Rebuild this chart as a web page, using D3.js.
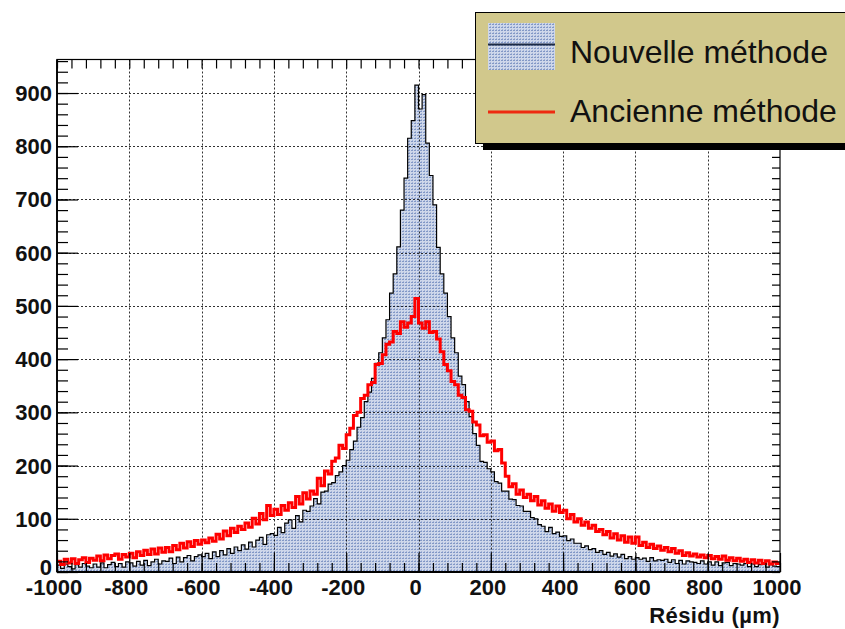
<!DOCTYPE html>
<html>
<head>
<meta charset="utf-8">
<script src="https://cdn.jsdelivr.net/npm/d3@7"></script>
<style>
html,body{margin:0;padding:0;background:#fff;}
svg{display:block;}
</style>
</head>
<body>
<svg id="chart" width="845" height="629"></svg>
<script>
// ---- DATA ----
const binStart = -1000;
const binWidth = 10;
// "Nouvelle méthode" (filled histogram), counts per 10 µm bin from -1000 to 1000
const nouvelle = [
  13, 7, 15, 10, 6, 14, 9, 16, 11, 8,
  15, 9, 17, 8, 14, 18, 10, 16, 9, 19,
  17, 11, 20, 13, 22, 12, 19, 24, 15, 21,
  20, 26, 16, 28, 19, 27, 31, 21, 29, 32,
  29, 35, 25, 38, 29, 40, 32, 44, 35, 47,
  40, 51, 43, 56, 47, 60, 65, 52, 70, 72,
  69, 84, 74, 92, 98, 82, 106, 94, 116, 114,
  124, 138, 128, 150, 152, 165, 168, 181, 188, 200,
  210, 230, 246, 272, 290, 320, 338, 364, 392, 412,
  440, 474, 524, 560, 611, 680, 740, 815, 848, 915,
  870, 897, 806, 745, 690, 610, 560, 524, 480, 440,
  412, 368, 352, 320, 292, 260, 238, 208, 206, 194,
  188, 170, 167, 152, 152, 137, 136, 125, 124, 114,
  114, 102, 100, 89, 86, 76, 84, 72, 75, 67,
  68, 59, 62, 54, 54, 46, 49, 42, 44, 37,
  40, 33, 37, 30, 34, 28, 33, 25, 29, 24,
  27, 24, 26, 20, 27, 21, 23, 22, 24, 18,
  23, 16, 22, 15, 21, 19, 18, 16, 21, 15,
  19, 13, 19, 12, 17, 18, 12, 16, 15, 13,
  16, 10, 15, 10, 14, 15, 9, 14, 11, 10
];
// "Ancienne méthode" (red line histogram)
const ancienne = [
  20, 14, 24, 17, 25, 16, 23, 27, 18, 26,
  22, 30, 21, 32, 25, 31, 34, 24, 33, 28,
  35, 27, 38, 31, 41, 33, 43, 34, 45, 37,
  46, 38, 50, 42, 54, 45, 57, 48, 59, 52,
  60, 55, 64, 58, 71, 62, 77, 68, 82, 74,
  86, 80, 92, 84, 101, 90, 110, 98, 125, 106,
  118, 108, 125, 116, 130, 121, 142, 128, 149, 137,
  152, 146, 176, 162, 190, 184, 208, 214, 238, 232,
  258, 270, 294, 300, 326, 332, 352, 356, 390, 392,
  408, 428, 432, 452, 448, 470, 460, 468, 480, 514,
  468, 458, 470, 450, 452, 438, 414, 390, 378, 358,
  352, 332, 328, 305, 302, 282, 276, 256, 258, 244,
  246, 228, 230, 205, 180, 160, 166, 146, 154, 140,
  146, 134, 142, 126, 134, 120, 128, 114, 124, 112,
  116, 100, 108, 94, 100, 88, 94, 82, 88, 76,
  80, 70, 76, 64, 72, 60, 68, 56, 66, 54,
  66, 50, 56, 46, 52, 44, 49, 41, 46, 38,
  44, 35, 40, 31, 36, 30, 34, 28, 32, 27,
  31, 25, 29, 24, 30, 22, 27, 21, 26, 20,
  24, 18, 23, 17, 22, 16, 21, 15, 19, 16
];
const xTicks = [-1000, -800, -600, -400, -200, 0, 200, 400, 600, 800, 1000];
const yTicks = [0, 100, 200, 300, 400, 500, 600, 700, 800, 900];
const legendLabels = ["Nouvelle méthode", "Ancienne méthode"];
const xTitle = "Résidu (µm)";
const xDomain = [-1000, 1000];
const yDomain = [0, 963];

// ---- LAYOUT ----
const L = 57, R = 780, T = 59.5, B = 572;
const svg = d3.select("#chart");
const x = d3.scaleLinear().domain(xDomain).range([L, R]);
const y = d3.scaleLinear().domain(yDomain).range([B, T]);
const FONT = "'Liberation Sans', Arial, Helvetica, sans-serif";

const defs = svg.append("defs");
const pat = defs.append("pattern").attr("id", "dots")
  .attr("width", 3).attr("height", 3).attr("patternUnits", "userSpaceOnUse");
pat.append("rect").attr("width", 3).attr("height", 3).attr("fill", "#ced7ea");
pat.append("rect").attr("x", 0).attr("y", 0).attr("width", 2).attr("height", 1).attr("fill", "#8298c6");
pat.append("rect").attr("x", 1).attr("y", 2).attr("width", 1).attr("height", 1).attr("fill", "#a3b4d8");

function toPoints(arr) {
  const pts = arr.map((v, i) => [binStart + i * binWidth, v]);
  pts.push([binStart + arr.length * binWidth, arr[arr.length - 1]]);
  return pts;
}

// filled histogram
const area = d3.area().curve(d3.curveStepAfter)
  .x(d => x(d[0])).y0(y(0)).y1(d => y(d[1]));
svg.append("path").datum(toPoints(nouvelle))
  .attr("d", area).attr("fill", "url(#dots)");

// grid
const gridG = svg.append("g").attr("stroke", "#000").attr("stroke-width", 1)
  .attr("stroke-dasharray", "2,2").attr("opacity", 0.8);
xTicks.slice(1, -1).forEach(t => {
  gridG.append("line").attr("x1", Math.round(x(t)) + 0.5).attr("x2", Math.round(x(t)) + 0.5)
    .attr("y1", T).attr("y2", B);
});
yTicks.slice(1).forEach(t => {
  gridG.append("line").attr("y1", Math.round(y(t)) + 0.5).attr("y2", Math.round(y(t)) + 0.5)
    .attr("x1", L).attr("x2", R);
});

// black outline
const line = d3.line().curve(d3.curveStepAfter).x(d => x(d[0])).y(d => y(d[1]));
svg.append("path").datum(toPoints(nouvelle))
  .attr("d", line).attr("fill", "none").attr("stroke", "#000").attr("stroke-width", 1.2);

// red histogram
svg.append("path").datum(toPoints(ancienne))
  .attr("d", line).attr("fill", "none").attr("stroke", "#ff0000").attr("stroke-width", 3)
  .attr("stroke-linejoin", "miter");

// frame
svg.append("rect").attr("x", L).attr("y", T).attr("width", R - L).attr("height", B - T)
  .attr("fill", "none").attr("stroke", "#000").attr("stroke-width", 1.2);
svg.append("line").attr("x1", L).attr("x2", L).attr("y1", T).attr("y2", B)
  .attr("stroke", "#000").attr("stroke-width", 1.8);
svg.append("line").attr("x1", L).attr("x2", R).attr("y1", B).attr("y2", B)
  .attr("stroke", "#000").attr("stroke-width", 1.8);

// axes with D3 (ticks drawn inward)
const yMinor = d3.range(0, 961, 20);
const xMinor = d3.range(-1000, 1001, 40);
const leftMajor = d3.axisRight(y).tickValues(yTicks).tickSize(21).tickFormat("");
const leftMinor = d3.axisRight(y).tickValues(yMinor).tickSize(11).tickFormat("");
const rightMinor = d3.axisLeft(y).tickValues(yMinor).tickSize(8).tickFormat("");
const botMajor = d3.axisTop(x).tickValues(xTicks).tickSize(19).tickFormat("");
const botMinor = d3.axisTop(x).tickValues(xMinor).tickSize(9).tickFormat("");
const topMinor = d3.axisBottom(x).tickValues(xMinor).tickSize(9).tickFormat("");
function styleAxis(g) { g.select(".domain").remove(); g.selectAll("line").attr("stroke", "#000").attr("stroke-width", 1.2); }
svg.append("g").attr("transform", `translate(${L},0)`).call(leftMajor).call(styleAxis);
svg.append("g").attr("transform", `translate(${L},0)`).call(leftMinor).call(styleAxis);
svg.append("g").attr("transform", `translate(${R},0)`).call(rightMinor).call(styleAxis);
svg.append("g").attr("transform", `translate(0,${B})`).call(botMajor).call(styleAxis);
svg.append("g").attr("transform", `translate(0,${B})`).call(botMinor).call(styleAxis);
svg.append("g").attr("transform", `translate(0,${T})`).call(topMinor).call(styleAxis);

// tick labels
svg.append("g").selectAll("text").data(yTicks).join("text")
  .attr("x", 52).attr("y", d => y(d) + (d === 0 ? 3 : 8))
  .attr("text-anchor", "end").attr("font-family", FONT).attr("font-weight", "bold")
  .attr("font-size", 22).attr("fill", "#111").text(d => d);
svg.append("g").selectAll("text").data(xTicks).join("text")
  .attr("x", d => x(d) - 3).attr("y", 595)
  .attr("text-anchor", "middle").attr("font-family", FONT).attr("font-weight", "bold")
  .attr("font-size", 22).attr("fill", "#111").text(d => d);

// axis title
svg.append("text").attr("x", R).attr("y", 623).attr("text-anchor", "end")
  .attr("font-family", FONT).attr("font-weight", "bold").attr("font-size", 22)
  .attr("letter-spacing", 0.4)
  .attr("fill", "#111").text(xTitle);

// legend
const lg = svg.append("g");
lg.append("rect").attr("x", 483).attr("y", 20).attr("width", 400).attr("height", 130).attr("fill", "#000");
lg.append("rect").attr("x", 475.5).attr("y", 12.5).attr("width", 400).attr("height", 131)
  .attr("fill", "#d1c88c").attr("stroke", "#000").attr("stroke-width", 1);
lg.append("rect").attr("x", 488).attr("y", 23).attr("width", 67).attr("height", 47).attr("fill", "url(#dots)");
lg.append("line").attr("x1", 488).attr("x2", 555).attr("y1", 44.5).attr("y2", 44.5)
  .attr("stroke", "#1c2a44").attr("stroke-width", 2);
lg.append("line").attr("x1", 488).attr("x2", 555).attr("y1", 112).attr("y2", 112)
  .attr("stroke", "#ee2a10").attr("stroke-width", 3);
lg.selectAll("text.lab").data(legendLabels).join("text").attr("class", "lab")
  .attr("x", 570).attr("y", (d, i) => i === 0 ? 63 : 122)
  .attr("font-family", FONT).attr("font-size", 32).attr("fill", "#111").text(d => d);
</script>
</body>
</html>
